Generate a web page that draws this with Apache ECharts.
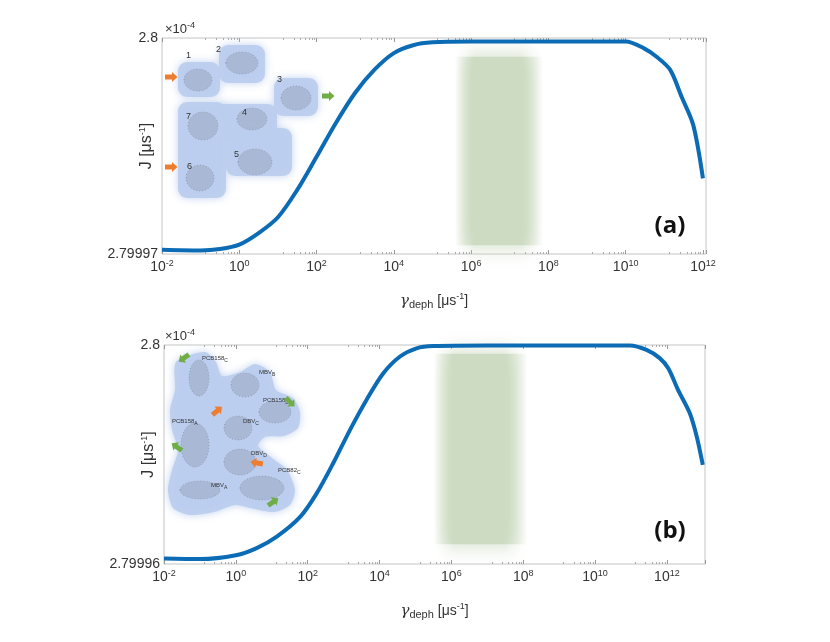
<!DOCTYPE html>
<html>
<head>
<meta charset="utf-8">
<script src="https://cdn.jsdelivr.net/npm/echarts@6/dist/echarts.min.js"></script>
<style>
html,body{margin:0;padding:0;background:#fff;}
#main{width:830px;height:642px;}
</style>
</head>
<body>
<div id="main"></div>
<script>
// panel (a): J (x1e-4) vs gamma_deph
var xA = [1e-2, 1e-1, 3.16e-1, 1, 3.16, 10, 31.6, 100, 316, 1000, 3160, 1e4, 3.16e4, 1e5, 1e6, 1e8, 1e10, 2.9e10, 6.3e10, 1.41e11, 2.82e11, 5.62e11, 1e12];
var yA = [2.7999706, 2.7999705, 2.7999707, 2.7999713, 2.7999729, 2.7999751, 2.7999789, 2.7999835, 2.7999882, 2.7999924, 2.7999956, 2.7999979, 2.7999990, 2.7999994, 2.7999995, 2.7999995, 2.7999995, 2.7999986, 2.7999974, 2.7999956, 2.7999918, 2.7999879, 2.7999805];
// panel (b)
var xB = [1e-2, 1e-1, 1, 3.8, 13.8, 61.7, 178, 513, 1510, 4370, 12600, 37200, 1.07e5, 3.16e5, 1e7, 1e9, 9.3e10, 2.7e11, 6.3e11, 1.1e12, 2.04e12, 4.37e12, 6.76e12, 1e13];
var yB = [2.7999610, 2.7999609, 2.7999616, 2.7999629, 2.7999650, 2.7999686, 2.7999729, 2.7999784, 2.7999845, 2.7999900, 2.7999948, 2.7999979, 2.7999994, 2.7999998, 2.7999999, 2.7999999, 2.7999999, 2.7999991, 2.7999976, 2.7999957, 2.7999918, 2.7999875, 2.7999833, 2.7999781];

// axis ranges and tick labels
var yTicksA = [2.79997, 2.8];
var yTicksB = [2.79996, 2.8];
var xRangeA = [1e-2, 1.2e12];
var xRangeB = [1e-2, 1.15e13];
// shaded green band [xFrom, xTo, yTop, yBottom]
var bandA = [3.8e5, 7.2e7, 2.7999974, 2.7999712];
var bandB = [3.2e5, 1.3e8, 2.7999984, 2.7999636];

var myChart = echarts.init(document.getElementById('main'));
var FONT = 'Liberation Sans';
var blue = '#0b6cb5';
var orange = '#ed7d31';
var green = '#70ad47';
var blobColor = 'rgba(188,205,238,0.95)';

var supRich = {
    s: {fontSize: 9, fontFamily: FONT, color: '#333', padding: [0, 0, 8, 0]},
    d: {fontSize: 11, fontFamily: FONT, color: '#333', padding: [7, 0, 0, 0]},
    g: {fontSize: 15, fontFamily: 'DejaVu Serif', fontStyle: 'italic', color: '#333'}
};

function powLabel(v) {
    var e = Math.round(Math.log(v) / Math.LN10);
    return '10{s|' + e + '}';
}

function xAxisBottom(gi, range) {
    return {
        type: 'log', gridIndex: gi, min: range[0], max: range[1], interval: 2,
        name: '{g|\u03b3}{d|deph} [\u03bcs{s|-1}]',
        nameLocation: 'middle', nameGap: 38, nameMoveOverlap: false,
        nameTextStyle: {fontSize: 14, fontFamily: FONT, color: '#333', rich: supRich},
        axisLine: {show: false},
        axisTick: {show: true, inside: true, length: 4, lineStyle: {color: '#999'}},
        minorTick: {show: true, splitNumber: 8, length: 2, lineStyle: {color: '#aaa'}},
        splitLine: {show: false},
        minorSplitLine: {show: false},
        axisLabel: {
            showMaxLabel: false, margin: 5,
            fontSize: 14, fontFamily: FONT, color: '#333',
            formatter: powLabel, rich: supRich
        }
    };
}

function xAxisTop(gi, range) {
    return {
        type: 'log', gridIndex: gi, position: 'top', min: range[0], max: range[1], interval: 2,
        axisLine: {show: false},
        axisTick: {show: true, inside: true, length: 4, lineStyle: {color: '#999'}},
        minorTick: {show: true, splitNumber: 8, length: 2, lineStyle: {color: '#aaa'}},
        splitLine: {show: false},
        axisLabel: {show: false}
    };
}

function yAxisFor(gi, ticks) {
    return {
        type: 'value', gridIndex: gi, min: ticks[0], max: ticks[1],
        name: 'J [\u03bcs{s|-1}]', nameLocation: 'middle', nameGap: 7, nameRotate: 90,
        nameMoveOverlap: false,
        nameTextStyle: {fontSize: 16, fontFamily: FONT, color: '#333', rich: supRich},
        axisLine: {show: false},
        axisTick: {show: false},
        splitLine: {show: false},
        axisLabel: {
            customValues: ticks, fontSize: 14, fontFamily: FONT, color: '#333', margin: 4,
            formatter: function (v) { return String(+v.toFixed(5)); }
        }
    };
}

function band(b) {
    var g = 'rgba(205,219,194,';
    return {
        silent: true,
        itemStyle: {
            color: new echarts.graphic.LinearGradient(0, 0, 1, 0, [
                {offset: 0, color: g + '0)'},
                {offset: 0.22, color: g + '1)'},
                {offset: 0.75, color: g + '1)'},
                {offset: 1, color: g + '0)'}
            ]),
            shadowBlur: 22, shadowColor: g + '1)'
        },
        data: [[{xAxis: b[0], yAxis: b[2]}, {xAxis: b[1], yAxis: b[3]}]]
    };
}

function pairs(xs, ys) {
    var out = [];
    for (var i = 0; i < xs.length; i++) {
        out.push([xs[i], ys[i]]);
    }
    return out;
}

// decorative inset helpers
function arrow(x, y, color, rot) {
    return {
        type: 'polygon', x: x, y: y, rotation: (rot || 0) * Math.PI / 180,
        shape: {points: [[-6, -2.5], [1, -2.5], [1, -5], [6.5, 0], [1, 5], [1, 2.5], [-6, 2.5]]},
        style: {fill: color}, z: 20
    };
}
function blob(x, y, w, h) {
    return {
        type: 'rect', shape: {x: x, y: y, width: w, height: h, r: 9},
        style: {fill: blobColor, shadowBlur: 8, shadowColor: blobColor}, z: 10
    };
}
function mol(cx, cy, rx, ry) {
    return {
        type: 'ellipse', shape: {cx: cx, cy: cy, rx: rx, ry: ry},
        style: {fill: 'rgba(125,132,150,0.3)', stroke: 'rgba(110,115,135,0.45)', lineWidth: 1, lineDash: [1, 2]}, z: 11
    };
}
function lab(x, y, t, size) {
    return {
        type: 'text', x: x, y: y, z: 12,
        style: {text: t, fontSize: size || 9, fontFamily: FONT, fill: '#333',
            rich: {c: {fontSize: 5, fontFamily: FONT, fill: '#333', padding: [4, 0, 0, 0]}}}
    };
}

var insetA = [
    blob(178, 62, 42, 35), blob(219, 45, 46, 38), blob(274, 78, 44, 38),
    blob(178, 102, 48, 96), blob(215, 104, 62, 34), blob(226, 128, 66, 48),
    mol(198, 80, 14, 11), mol(242, 63, 16, 11), mol(296, 98, 15, 12),
    mol(203, 126, 15, 14), mol(252, 119, 15, 11), mol(200, 178, 14, 13), mol(255, 162, 17, 13),
    lab(186, 51, '1'), lab(216, 45, '2'), lab(277, 75, '3'), lab(242, 108, '4'),
    lab(234, 150, '5'), lab(187, 162, '6'), lab(186, 112, '7'),
    arrow(171, 77, orange), arrow(171, 167, orange), arrow(328, 96, green)
];

var insetB = [
    {
        type: 'polygon', z: 10,
        shape: {smooth: 0.25, points: [[176, 362], [205, 352], [216, 362], [222, 376], [240, 372], [255, 364], [270, 372], [276, 390], [293, 398], [300, 412], [298, 428], [284, 436], [265, 437], [258, 446], [272, 458], [287, 470], [295, 490], [290, 505], [274, 512], [250, 508], [235, 505], [214, 512], [190, 515], [173, 508], [168, 490], [172, 470], [178, 450], [172, 430], [170, 410], [175, 390]]},
        style: {fill: blobColor, shadowBlur: 8, shadowColor: blobColor}
    },
    mol(199, 378, 10, 18), mol(245, 385, 14, 12), mol(275, 412, 16, 11), mol(238, 428, 14, 12),
    mol(195, 445, 14, 22), mol(240, 462, 16, 13), mol(200, 490, 20, 9), mol(262, 488, 22, 12),
    lab(202, 354, 'PCB158{c|C}', 6), lab(259, 368, 'MBV{c|B}', 6), lab(263, 396, 'PCB158{c|D}', 6),
    lab(172, 417, 'PCB158{c|A}', 6), lab(243, 417, 'DBV{c|C}', 6), lab(251, 449, 'DBV{c|D}', 6),
    lab(278, 466, 'PCB82{c|C}', 6), lab(211, 481, 'MBV{c|A}', 6),
    arrow(184, 358, green, 215), arrow(290, 402, green, -45), arrow(177, 447, green, 145),
    arrow(273, 502, green, 35), arrow(217, 411, orange, 40), arrow(257, 463, orange, 170)
];

var texts = [
    {type: 'text', x: 165, y: 21, z: 30, style: {text: '\u00d710{s|-4}', fontSize: 13, fontFamily: FONT, fill: '#333', rich: {s: {fontSize: 9, fontFamily: FONT, fill: '#333', padding: [0, 0, 8, 0]}}}},
    {type: 'text', x: 165, y: 328, z: 30, style: {text: '\u00d710{s|-4}', fontSize: 13, fontFamily: FONT, fill: '#333', rich: {s: {fontSize: 9, fontFamily: FONT, fill: '#333', padding: [0, 0, 8, 0]}}}},
    {type: 'text', x: 670, y: 226, z: 30, style: {text: '(a)', fontSize: 24, fontWeight: 'bold', fontFamily: 'Open Sans', fill: '#111', align: 'center', verticalAlign: 'middle'}},
    {type: 'text', x: 670, y: 531, z: 30, style: {text: '(b)', fontSize: 24, fontWeight: 'bold', fontFamily: 'Open Sans', fill: '#111', align: 'center', verticalAlign: 'middle'}}
];

var option = {
    animation: false,
    backgroundColor: '#fff',
    grid: [
        {left: 162, right: 124, top: 38, height: 216, show: true, borderColor: '#c4c4c4', borderWidth: 1},
        {left: 164, right: 125, top: 345, height: 219, show: true, borderColor: '#c4c4c4', borderWidth: 1}
    ],
    xAxis: [
        xAxisBottom(0, xRangeA), xAxisTop(0, xRangeA),
        xAxisBottom(1, xRangeB), xAxisTop(1, xRangeB)
    ],
    yAxis: [yAxisFor(0, yTicksA), yAxisFor(1, yTicksB)],
    series: [
        {
            type: 'line', xAxisIndex: 0, yAxisIndex: 0, data: pairs(xA, yA),
            showSymbol: false, smooth: 0.3, z: 5,
            lineStyle: {color: blue, width: 4},
            markArea: band(bandA)
        },
        {
            type: 'line', xAxisIndex: 2, yAxisIndex: 1, data: pairs(xB, yB),
            showSymbol: false, smooth: 0.3, z: 5,
            lineStyle: {color: blue, width: 4},
            markArea: band(bandB)
        }
    ],
    graphic: insetA.concat(insetB, texts)
};
myChart.setOption(option);
</script>
</body>
</html>
